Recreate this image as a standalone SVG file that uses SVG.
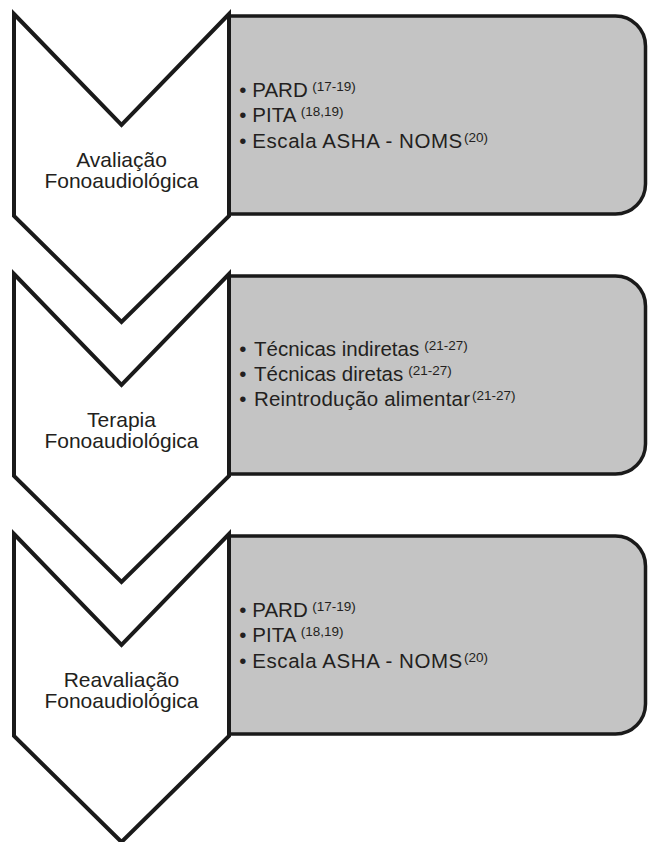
<svg xmlns="http://www.w3.org/2000/svg" width="649" height="842" viewBox="0 0 649 842">
<defs>
<style>
.box{fill:#c4c4c4;stroke:#1a1a1a;stroke-width:3.5;stroke-linejoin:round}
.chev{fill:#ffffff;stroke:#1a1a1a;stroke-width:4;stroke-linejoin:miter;stroke-miterlimit:10}
.lbl{font-family:"Liberation Sans",Arial,Helvetica,sans-serif;font-size:21px;fill:#231f20;text-anchor:middle}
.item{font-family:"Liberation Sans",Arial,Helvetica,sans-serif;font-size:20.5px;fill:#231f20}
.sup{font-family:"Liberation Sans",Arial,Helvetica,sans-serif;font-size:13.5px;fill:#231f20}
</style>
<path id="boxshape" d="M229,2 H615.5 A30,30 0 0 1 645.5,32 V170 A30,30 0 0 1 615.5,200 H229 Z"/>
<path id="chevshape" d="M14,0 L121.5,111 L229,0 V202 L121.5,308 L14,202 Z"/>
</defs>
<rect width="649" height="842" fill="#ffffff"/>
<g id="connectors"></g>

<g id="step1-box" transform="translate(0,14)">
<use href="#boxshape" class="box"/>
<text class="item" x="239.2" y="82.5">•</text>
<text class="item" x="252.3" y="82.5">PARD</text>
<text class="sup" x="312.3" y="76.5">(17-19)</text>
<text class="item" x="239.2" y="108.3">•</text>
<text class="item" x="252.3" y="108.3">PITA</text>
<text class="sup" x="300.7" y="102.3">(18,19)</text>
<text class="item" x="239.2" y="134.3">•</text>
<text class="item" x="252.3" y="134.3" textLength="210" lengthAdjust="spacing">Escala ASHA - NOMS</text>
<text class="sup" x="464" y="128.3">(20)</text>
</g>
<g id="step1-chevron" transform="translate(0,14)">
<use href="#chevshape" class="chev"/>
<text class="lbl" x="121.5" y="152.5">Avaliação</text>
<text class="lbl" x="121.5" y="173.5">Fonoaudiológica</text>
</g>

<g id="step2-box" transform="translate(0,274)">
<use href="#boxshape" class="box"/>
<text class="item" x="239.2" y="81.8">•</text>
<text class="item" x="254" y="81.8">Técnicas indiretas</text>
<text class="sup" x="424.3" y="75.8">(21-27)</text>
<text class="item" x="239.2" y="106.8">•</text>
<text class="item" x="254" y="106.8">Técnicas diretas</text>
<text class="sup" x="408.3" y="100.8">(21-27)</text>
<text class="item" x="239.2" y="131.5">•</text>
<text class="item" x="254" y="131.5" textLength="216" lengthAdjust="spacing">Reintrodução alimentar</text>
<text class="sup" x="472" y="125.5">(21-27)</text>
</g>
<g id="step2-chevron" transform="translate(0,274)">
<use href="#chevshape" class="chev"/>
<text class="lbl" x="121.5" y="152.5">Terapia</text>
<text class="lbl" x="121.5" y="173.5">Fonoaudiológica</text>
</g>

<g id="step3-box" transform="translate(0,534)">
<use href="#boxshape" class="box"/>
<text class="item" x="239.2" y="82.5">•</text>
<text class="item" x="252.3" y="82.5">PARD</text>
<text class="sup" x="312.3" y="76.5">(17-19)</text>
<text class="item" x="239.2" y="108.3">•</text>
<text class="item" x="252.3" y="108.3">PITA</text>
<text class="sup" x="300.7" y="102.3">(18,19)</text>
<text class="item" x="239.2" y="134.3">•</text>
<text class="item" x="252.3" y="134.3" textLength="210" lengthAdjust="spacing">Escala ASHA - NOMS</text>
<text class="sup" x="464" y="128.3">(20)</text>
</g>
<g id="step3-chevron" transform="translate(0,534)">
<use href="#chevshape" class="chev"/>
<text class="lbl" x="121.5" y="152.5">Reavaliação</text>
<text class="lbl" x="121.5" y="173.5">Fonoaudiológica</text>
</g>
</svg>
